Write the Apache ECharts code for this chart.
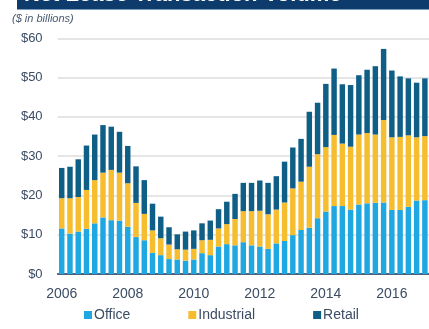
<!DOCTYPE html>
<html>
<head>
<meta charset="utf-8">
<script src="https://cdn.jsdelivr.net/npm/echarts@6/dist/echarts.min.js"></script>
<style>
html,body{margin:0;padding:0;background:#fff;}
#chart{width:429px;height:329px;}
</style>
</head>
<body>
<div id="chart"></div>
<script>
// Quarterly categories 2006Q1 .. 2017Q1
const quarters = [];
for (let y = 2006; y <= 2017; y++) {
  for (let q = 1; q <= 4; q++) {
    if (y === 2017 && q > 1) break;
    quarters.push(y + ' Q' + q);
  }
}
const yearLabels = ['2006','2008','2010','2012','2014','2016'];

// ($ billions)
const officeValues = [11.6,10.3,10.8,11.5,12.9,14.4,13.7,13.6,12.0,9.4,8.6,5.4,4.8,3.8,3.7,3.4,3.7,5.3,4.8,7.0,7.6,7.3,8.1,7.3,7.0,6.4,7.8,8.4,9.9,11.2,11.8,14.2,15.9,17.3,17.3,16.4,17.7,18.0,18.1,18.2,16.3,16.3,17.1,18.7,18.8];
const industrialValues = [7.7,9.0,8.8,9.9,11.0,11.4,12.8,12.2,11.1,8.7,6.7,5.7,4.3,3.7,2.6,2.8,2.7,3.3,3.9,4.6,5.1,6.7,7.9,8.7,9.1,8.8,8.6,9.8,11.9,12.3,15.5,16.3,16.4,18.1,15.9,16.0,17.8,17.9,17.4,21.0,18.5,18.6,18.2,16.1,16.3];
const retailValues = [7.7,8.0,9.6,11.3,11.6,12.1,11.0,10.4,9.5,9.3,8.6,6.8,5.5,4.4,3.8,4.6,4.7,4.3,4.9,4.9,5.7,6.4,7.2,7.2,7.7,8.0,8.5,10.4,10.4,10.9,14.0,13.1,16.1,16.9,15.1,15.7,15.1,16.1,17.4,18.1,17.0,15.4,14.5,13.9,14.7];

const yTicks = [0,10,20,30,40,50,60];

const chart = echarts.init(document.getElementById('chart'), null, {renderer:'canvas'});
const FONT = 'Liberation Sans, Arial, sans-serif';
const labelColor = '#3b4c63';

chart.setOption({
  animation: false,
  backgroundColor: '#ffffff',
  textStyle: {fontFamily: FONT},
  graphic: [
    {type:'rect', z:10, shape:{x:17, y:0, width:412, height:10}, style:{fill:'#0c3b6c'}},
    {type:'rect', z:10, shape:{x:17, y:9, width:412, height:1}, style:{fill:'#7b9cc0'}},
    {type:'text', z:11, x:24, y:-5, style:{text:'Net Lease Transaction Volume', fill:'#ffffff', fontSize:22, fontWeight:'bold', fontFamily:FONT, verticalAlign:'middle'}},
    {type:'text', z:11, x:12, y:13, style:{text:'($ in billions)', fill:'#4a5a70', fontSize:11, fontStyle:'italic', fontFamily:FONT}}
  ],
  legend: {
    bottom: 2,
    left: 79,
    itemWidth: 8,
    itemHeight: 8,
    itemGap: 58,
    icon: 'rect',
    textStyle: {color: labelColor, fontSize: 14, fontFamily: FONT, padding:[0,0,0,-3]},
    data: ['Office','Industrial','Retail']
  },
  grid: {left: 57.6, right: -1.6, top: 38.3, bottom: 55, containLabel: false},
  xAxis: {
    type: 'category',
    data: quarters,
    axisTick: {show:false},
    axisLine: {lineStyle:{color:'#1d3a58', width:1.5}},
    axisLabel: {
      color: labelColor, fontSize: 14, margin: 13, interval: 0,
      formatter: function(v){ const p = v.split(' '); return (p[1]==='Q1' && yearLabels.indexOf(p[0])>=0) ? p[0] : ''; }
    }
  },
  yAxis: {
    type: 'value',
    min: 0, max: 60, interval: 10,
    axisLine: {show:false},
    axisTick: {show:false},
    splitLine: {lineStyle:{color:'#dcdcdc', width:1.5}},
    axisLabel: {color: labelColor, fontSize: 13, margin: 15, formatter: function(v){ return yTicks.indexOf(v)>=0 ? '$' + v : ''; }}
  },
  series: [
    {name:'Office', type:'bar', stack:'t', data: officeValues, barCategoryGap:'34%', itemStyle:{color:'#1fa7e1'}},
    {name:'Industrial', type:'bar', stack:'t', data: industrialValues, itemStyle:{color:'#f6bd2f'}},
    {name:'Retail', type:'bar', stack:'t', data: retailValues, itemStyle:{color:'#0f5e86'}}
  ]
});
</script>
</body>
</html>
